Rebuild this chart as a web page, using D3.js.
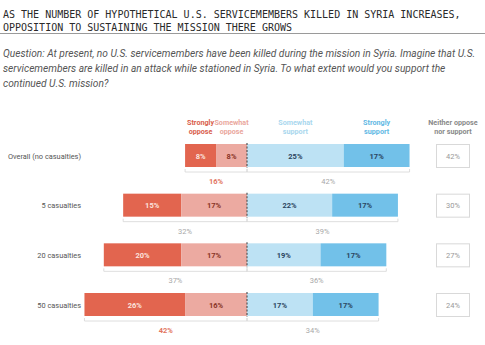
<!DOCTYPE html>
<html>
<head>
<meta charset="utf-8">
<script src="https://cdn.jsdelivr.net/npm/d3@7"></script>
<style>
  body { margin: 0; background: #fff; }
  svg { display: block; }
</style>
</head>
<body>
<div id="chart"></div>
<script>
// data
var categories = ["Overall (no casualties)", "5 casualties", "20 casualties", "50 casualties"];
var stronglyOppose = [8, 15, 20, 26];
var somewhatOppose = [8, 17, 17, 16];
var somewhatSupport = [25, 22, 19, 17];
var stronglySupport = [17, 17, 17, 17];
var neither = [42, 30, 27, 24];
var opposeTotal = [16, 32, 37, 42];
var supportTotal = [42, 39, 36, 34];
var opposeHighlight = [true, false, false, true];

var titleLines = [
    "AS THE NUMBER OF HYPOTHETICAL U.S. SERVICEMEMBERS KILLED IN SYRIA INCREASES,",
    "OPPOSITION TO SUSTAINING THE MISSION THERE GROWS"
];
var questionLines = [
    "Question: At present, no U.S. servicemembers have been killed during the mission in Syria. Imagine that U.S.",
    "servicemembers are killed in an attack while stationed in Syria. To what extent would you support the",
    "continued U.S. mission?"
];

var W = 485, H = 345;
var svg = d3.select("#chart").append("svg").attr("width", W).attr("height", H);

// title
svg.selectAll("text.title").data(titleLines).enter().append("text")
    .attr("class", "title")
    .attr("x", 3).attr("y", (d, i) => 18 + i * 12.5)
    .attr("font-family", "DejaVu Sans Mono, monospace")
    .attr("font-size", 10).attr("fill", "#2a2a2a")
    .text(d => d);
svg.append("line").attr("x1", 0).attr("x2", W).attr("y1", 33.5).attr("y2", 33.5)
    .attr("stroke", "#9a9a9a").attr("stroke-width", 1.2);

svg.selectAll("text.q").data(questionLines).enter().append("text")
    .attr("class", "q")
    .attr("x", 3).attr("y", (d, i) => 56.5 + i * 15.2)
    .attr("font-family", "Roboto, sans-serif").attr("font-style", "italic")
    .attr("font-size", 10.2).attr("fill", "#555")
    .text(d => d);

// scales
var pxPer = 3.87, cx = 247;
var x = d3.scaleLinear().domain([-50, 50]).range([cx - 50 * pxPer, cx + 50 * pxPer]);
var y = d3.scalePoint().domain(categories).range([155.5, 304.5]);
var bh = 23;

var seriesDefs = [
    { key: "so", vals: stronglyOppose, fill: "#e2654f", text: "#fbe3de" },
    { key: "mo", vals: somewhatOppose, fill: "#ecaaa1", text: "#8a3526" },
    { key: "ms", vals: somewhatSupport, fill: "#bde2f4", text: "#2b4560" },
    { key: "ss", vals: stronglySupport, fill: "#72c1e9", text: "#2b4560" }
];

var rows = categories.map((c, i) => {
    var segs = [
        { s: seriesDefs[0], x0: -(stronglyOppose[i] + somewhatOppose[i]), x1: -somewhatOppose[i], v: stronglyOppose[i] },
        { s: seriesDefs[1], x0: -somewhatOppose[i], x1: 0, v: somewhatOppose[i] },
        { s: seriesDefs[2], x0: 0, x1: somewhatSupport[i], v: somewhatSupport[i] },
        { s: seriesDefs[3], x0: somewhatSupport[i], x1: somewhatSupport[i] + stronglySupport[i], v: stronglySupport[i] }
    ];
    return { cat: c, i: i, segs: segs };
});

var g = svg.selectAll("g.row").data(rows).enter().append("g")
    .attr("class", "row")
    .attr("transform", d => "translate(0," + y(d.cat) + ")");

// row labels
g.append("text")
    .attr("x", 81).attr("y", 3)
    .attr("text-anchor", "end")
    .attr("font-family", "Roboto, sans-serif").attr("font-size", 7.4)
    .attr("fill", "#555")
    .text(d => d.cat);

// bars
g.selectAll("rect.seg").data(d => d.segs).enter().append("rect")
    .attr("class", "seg")
    .attr("x", d => x(d.x0)).attr("width", d => x(d.x1) - x(d.x0))
    .attr("y", -bh / 2).attr("height", bh)
    .attr("fill", d => d.s.fill);

g.selectAll("text.val").data(d => d.segs).enter().append("text")
    .attr("class", "val")
    .attr("x", d => (x(d.x0) + x(d.x1)) / 2).attr("y", 3)
    .attr("text-anchor", "middle")
    .attr("font-family", "Roboto, sans-serif").attr("font-size", 7.5).attr("font-weight", "bold")
    .attr("fill", d => d.s.text)
    .text(d => d.v + "%");

// center dashed line
g.append("line")
    .attr("x1", cx).attr("x2", cx).attr("y1", -bh / 2 - 1).attr("y2", bh / 2 + 1)
    .attr("stroke", "#555").attr("stroke-width", 1.2).attr("stroke-dasharray", "2,1.5");

// brackets under bars
function bracket(sel, from, to) {
    sel.append("path")
        .attr("d", d => {
            var a = x(from(d)), b = x(to(d)), yy = bh / 2 + 5;
            return "M" + a + "," + (yy - 3) + "V" + yy + "H" + b + "V" + (yy - 3);
        })
        .attr("fill", "none").attr("stroke", "#d6d6d6").attr("stroke-width", 0.8);
}
bracket(g, d => -opposeTotal[d.i], d => 0);
bracket(g, d => 0, d => supportTotal[d.i]);

g.append("text")
    .attr("x", d => x(-opposeTotal[d.i] / 2)).attr("y", bh / 2 + 17)
    .attr("text-anchor", "middle")
    .attr("font-family", "Roboto, sans-serif").attr("font-size", 7.5)
    .attr("font-weight", d => opposeHighlight[d.i] ? "bold" : "normal")
    .attr("fill", d => opposeHighlight[d.i] ? "#e2765f" : "#a8a8a8")
    .text(d => opposeTotal[d.i] + "%");
g.append("text")
    .attr("x", d => x(supportTotal[d.i] / 2)).attr("y", bh / 2 + 17)
    .attr("text-anchor", "middle")
    .attr("font-family", "Roboto, sans-serif").attr("font-size", 7.5)
    .attr("fill", "#a8a8a8")
    .text(d => supportTotal[d.i] + "%");

// neither boxes
var boxX = 436, boxW = 33;
g.append("rect")
    .attr("x", boxX + 0.5).attr("y", -bh / 2 + 0.5).attr("width", boxW).attr("height", bh)
    .attr("fill", "#fff").attr("stroke", "#d9d9d9").attr("stroke-width", 1);
g.append("text")
    .attr("x", boxX + boxW / 2 + 0.5).attr("y", 3)
    .attr("text-anchor", "middle")
    .attr("font-family", "Roboto, sans-serif").attr("font-size", 7.5)
    .attr("fill", "#999")
    .text(d => neither[d.i] + "%");

// column headers centered over the first row
var r0 = rows[0];
var headers = [
    { lines: ["Strongly", "oppose"], x: (x(r0.segs[0].x0) + x(r0.segs[0].x1)) / 2, fill: "#d9604c" },
    { lines: ["Somewhat", "oppose"], x: (x(r0.segs[1].x0) + x(r0.segs[1].x1)) / 2, fill: "#eaa79d" },
    { lines: ["Somewhat", "support"], x: (x(r0.segs[2].x0) + x(r0.segs[2].x1)) / 2, fill: "#a9d7ee" },
    { lines: ["Strongly", "support"], x: (x(r0.segs[3].x0) + x(r0.segs[3].x1)) / 2, fill: "#62b8e4" },
    { lines: ["Neither oppose", "nor support"], x: boxX + boxW / 2 + 0.5, fill: "#8a8a8a" }
];
var hg = svg.selectAll("text.hdr").data(headers).enter().append("text")
    .attr("class", "hdr")
    .attr("text-anchor", "middle")
    .attr("font-family", "Roboto, sans-serif").attr("font-size", 7.2).attr("font-weight", "bold")
    .attr("fill", d => d.fill);
hg.selectAll("tspan").data(d => d.lines.map(l => ({ l: l, x: d.x }))).enter().append("tspan")
    .attr("x", d => d.x).attr("y", (d, i) => 124.5 + i * 9)
    .text(d => d.l);
</script>
</body>
</html>
